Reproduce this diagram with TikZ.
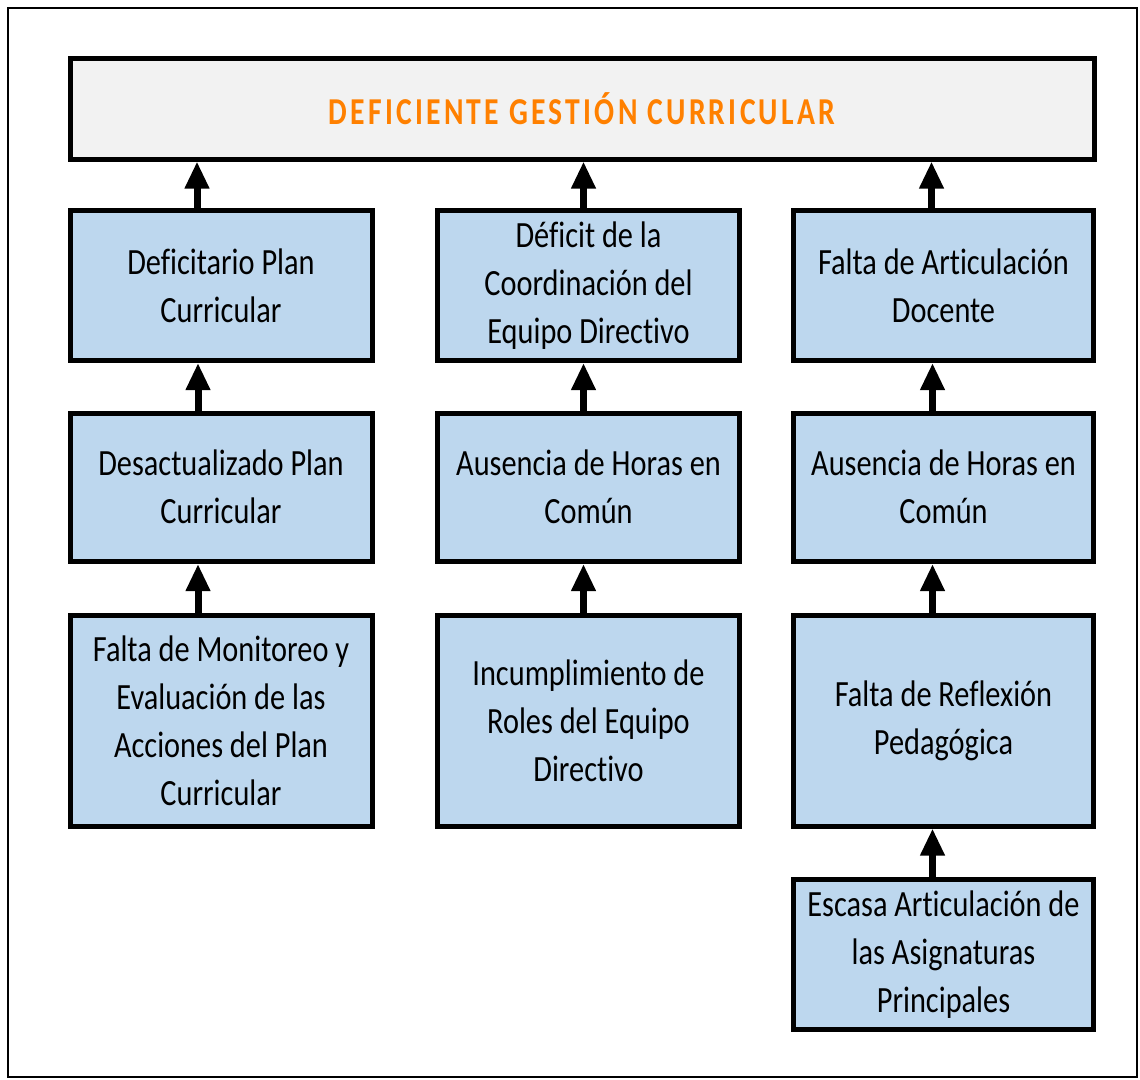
\documentclass[tikz,border=0pt]{standalone}
\usepackage{fontspec}
\setmainfont{Carlito}[FakeStretch=0.82,Ligatures=NoCommon]
\newfontfamily\titlefont{Carlito}[FakeStretch=0.78,LetterSpace=8.5]
\usetikzlibrary{arrows.meta}
\definecolor{boxblue}{RGB}{189,215,238}
\definecolor{titlegray}{RGB}{242,242,242}
\definecolor{titleorange}{RGB}{255,128,0}
\begin{document}
\begin{tikzpicture}[x=1pt,y=-1pt,
  causebox/.style={draw=black,line width=5pt,fill=boxblue,rectangle,inner sep=0pt,
    minimum width=302pt,align=center,font=\fontsize{37}{48}\selectfont},
  upar/.style={line width=7pt,-{Triangle[width=23pt,length=27pt]}}]
\useasboundingbox (0,0) rectangle (1140,1079);
\draw[line width=2.5pt] (8,8) rectangle (1137,1077);
\node[draw=black,line width=5pt,fill=titlegray,inner sep=0pt,minimum width=1024pt,minimum height=100.5pt,
  font=\titlefont\bfseries\fontsize{38}{44}\selectfont,text=titleorange] (T) at (582,108.75) {DEFICIENTE GESTIÓN CURRICULAR};
% column 1
\node[causebox,minimum height=150pt] (A1) at (221,285.5) {Deficitario Plan\\Curricular};
\node[causebox,minimum height=148.5pt] (A2) at (221,487.25) {Desactualizado Plan\\Curricular};
\node[causebox,minimum height=210.5pt] (A3) at (221,720.75) {Falta de Monitoreo y\\Evaluación de las\\Acciones del Plan\\Curricular};
% column 2
\node[causebox,minimum height=150pt] (B1) at (588.5,285.5) {Déficit de la\\Coordinación del\\Equipo Directivo};
\node[causebox,minimum height=148.5pt] (B2) at (588.5,487.25) {Ausencia de Horas en\\Común};
\node[causebox,minimum height=210.5pt] (B3) at (588.5,720.75) {Incumplimiento de\\Roles del Equipo\\Directivo};
% column 3
\node[causebox,minimum width=300pt,minimum height=150pt] (C1) at (943.5,285.5) {Falta de Articulación\\Docente};
\node[causebox,minimum width=300pt,minimum height=148.5pt] (C2) at (943.5,487.25) {Ausencia de Horas en\\Común};
\node[causebox,minimum width=300pt,minimum height=210.5pt] (C3) at (943.5,720.75) {Falta de Reflexión\\Pedagógica};
\node[causebox,minimum width=300pt,minimum height=150.5pt] (C4) at (943.5,954.25) {Escasa Articulación de\\las Asignaturas\\Principales};
% arrows
\draw[upar] ([xshift=-24pt]A1.north) -- ([xshift=-24pt]A1.north |- T.south);
\draw[upar] ([xshift=-23pt]A2.north) -- ([xshift=-23pt]A1.south);
\draw[upar] ([xshift=-23pt]A3.north) -- ([xshift=-23pt]A2.south);
\draw[upar] ([xshift=-5pt]B1.north) -- ([xshift=-5pt]B1.north |- T.south);
\draw[upar] ([xshift=-5pt]B2.north) -- ([xshift=-5pt]B1.south);
\draw[upar] ([xshift=-5pt]B3.north) -- ([xshift=-5pt]B2.south);
\draw[upar] ([xshift=-12pt]C1.north) -- ([xshift=-12pt]C1.north |- T.south);
\draw[upar] ([xshift=-11pt]C2.north) -- ([xshift=-11pt]C1.south);
\draw[upar] ([xshift=-11pt]C3.north) -- ([xshift=-11pt]C2.south);
\draw[upar] ([xshift=-11pt]C4.north) -- ([xshift=-11pt]C3.south);
\end{tikzpicture}
\end{document}
